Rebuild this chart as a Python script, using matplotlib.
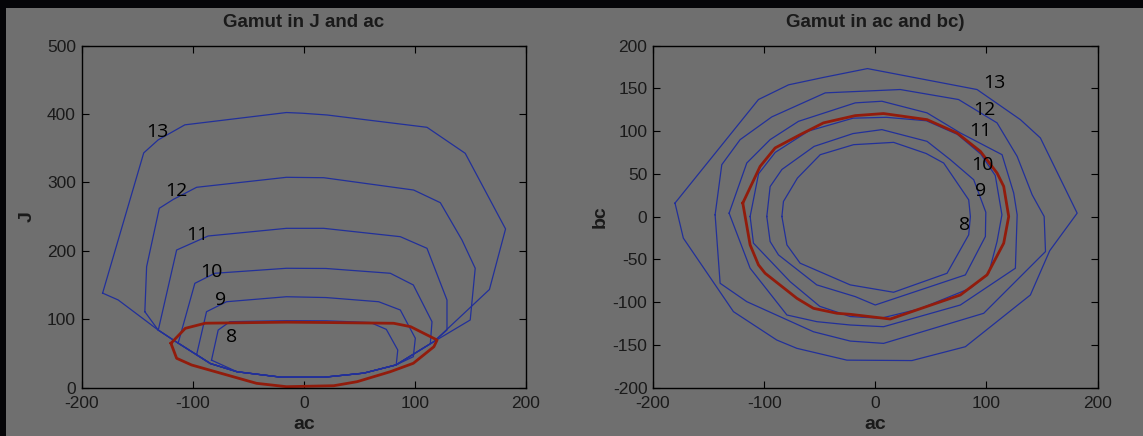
import matplotlib
matplotlib.use("Agg")
import matplotlib.pyplot as plt
from matplotlib.patches import Rectangle

# ---------------- data: left panel (ac vs J) ----------------
L8_ac = [-83, -77, -66.5, -15.6, 20, 60, 74.3, 84.6, 83.2, 54, 18, -20, -60, -83]
L8_J = [40, 84, 96.2, 97.7, 97.5, 95, 85, 54.8, 32.9, 21, 15, 15, 23, 40]
L9_ac = [-96.4, -87.5, -69.5, -15.6, 20, 67.4, 86.9, 100.4, 98.6, 83, 54, 18, -20, -60, -84, -96.4]
L9_J = [48, 110.8, 125.4, 132.7, 131.5, 125.4, 113.3, 72, 45, 33, 21, 15, 15, 23, 35, 48]
L10_ac = [-113, -98, -80, -15.6, 20, 77.9, 98.6, 115.4, 113.9, 83, 54, 18, -20, -60, -84, -113]
L10_J = [65, 152.3, 167, 174.3, 174, 167, 149.9, 96.2, 64, 33, 21, 15, 15, 23, 35, 65]
L11_ac = [-130.9, -114.4, -86, -15.6, 18, 86.9, 110.9, 128.9, 128.9, 117, 83, 54, 18, -20, -60, -84, -117, -130.9]
L11_J = [84, 201, 221.5, 232.7, 232.7, 220.5, 203.5, 127.9, 84, 67, 33, 21, 15, 15, 23, 35, 69, 84]
L12_ac = [-143, -141.4, -130, -117.4, -96.4, -15.6, 18, 98.9, 122.9, 142.4, 154.3, 149.8, 117, 83, 54, 18, -20, -60, -84, -117, -131, -143]
L12_J = [110.8, 176.6, 262, 275, 292.7, 307.3, 306.7, 288.7, 270.2, 215.6, 174.3, 98.7, 67, 33, 21, 15, 15, 23, 35, 69, 84, 110.8]
L13_ac = [-181, -144, -131, -107, -15.6, -1.4, 21, 110.9, 145.3, 181.6, 167.1, 117, 83, 54, 18, -20, -60, -84, -117, -131, -167, -181]
L13_J = [138, 343, 362, 384, 402, 401, 398.4, 380.4, 342.4, 231.8, 143.3, 67, 33, 21, 15, 15, 23, 35, 69, 84, 128, 138]
Lred_ac = [-119.5, -106.6, -88.6, -15.6, 20, 80.9, 96.2, 120, 117.1, 98.6, 77.9, 48, 27, -15.6, -42.5, -100.9, -114.4, -119.5]
Lred_J = [64.6, 86.5, 94, 95.5, 95, 93.9, 88.9, 69.4, 59.6, 35.4, 23.1, 8.5, 2.6, 1.2, 6.1, 32.9, 42.7, 64.6]

# ---------------- data: right panel (ac vs bc) ----------------
R8_ac = [-84, -82.6, -70, -49.5, -19.5, 16.5, 45.8, 61.6, 84.1, 85.6, 84.1, 64.6, 16.5, -22.5, -67.6, -79.5, -84]
R8_bc = [0, 17.6, 45, 72.3, 84, 86.7, 73.7, 62.5, 19.5, 0, -21.4, -66.4, -88.6, -80, -54.6, -33.2, 0]
R9_ac = [-97.6, -94.6, -84, -55, -20, 6, 46.6, 67.6, 88.6, 99.5, 99.1, 81.1, 0, -18, -52.6, -87.1, -94.6, -97.6]
R9_bc = [0, 35, 55, 82, 97, 101.6, 87.9, 66.4, 43, 5, -23.4, -68.3, -103.5, -93.7, -80, -44.9, -29.3, 0]
R10_ac = [-112.6, -105, -90, -60, -20, 10, 46, 74, 95, 108, 114, 109.6, 102.1, 85.6, 40, 5, -22.5, -50, -76.6, -109.6, -112.6]
R10_bc = [0, 50, 75, 100, 115, 116, 112, 96, 73, 48, 2, -29.3, -66.4, -83.9, -108, -119, -117, -105, -76.2, -31.2, 0]
R11_ac = [-131.5, -115.6, -94.6, -69.1, -18, 6, 46.6, 76.6, 114.1, 124.6, 127.7, 126.1, 76.6, 7.5, -22.5, -52.6, -79.5, -112.6, -131.5]
R11_bc = [3.9, 62.6, 89.9, 111.3, 132.9, 134.8, 121.2, 97.7, 72.3, 27.4, 2, -60.5, -103.5, -128.9, -126.9, -123, -115.2, -60.5, 3.9]
R12_ac = [-144.1, -138.1, -121.6, -93.1, -45, 22.5, 75, 109.6, 127.7, 141.2, 152, 153.2, 97.6, 7.5, -22.5, -55.6, -115.6, -139.6, -144.1]
R12_bc = [2, 60.6, 89.9, 116.5, 144.6, 148.5, 136.8, 109.5, 70.3, 25.4, 0, -41, -113.2, -148.4, -145.7, -134.8, -99.6, -78.1, 2]
R13_ac = [-180.2, -105.1, -78, -46.5, -7, 91.6, 130.6, 148.6, 181.7, 157, 139.6, 81.1, 33, -25.5, -70.5, -88.6, -127.6, -172.7, -180.2]
R13_bc = [15.7, 136.8, 154, 162.7, 173, 148.5, 113.3, 91.9, 3.9, -40, -91.8, -152.3, -168.5, -168, -154.2, -144.5, -111.3, -25.3, 15.7]
Rred_ac = [-119.2, -103.6, -90.1, -67.6, -46.6, -18, 7.5, 46.6, 73.6, 94.6, 109.6, 115.6, 120.1, 115.6, 100.6, 76.6, 13.5, -22.5, -34.5, -55.6, -70.5, -99.1, -105.1, -112.6, -119.2]
Rred_bc = [15.7, 58.6, 80.2, 95.7, 109.5, 118, 120.4, 113.3, 97.7, 76.2, 50.9, 35.2, 0, -31.2, -68.3, -91.8, -119.9, -114.4, -113.2, -107.4, -95.7, -66.4, -56.6, -33.2, 15.7]

# contour labels
levels = ["8", "9", "10", "11", "12", "13"]
left_label_ac = [-65, -75, -83, -96, -115, -131.5]
left_label_J = [74, 128, 169, 223, 288, 373]
right_label_ac = [80.5, 94.6, 96, 94.6, 98.5, 107]
right_label_bc = [-9.7, 29.3, 60.6, 99.6, 125, 156]

left_x = [L8_ac, L9_ac, L10_ac, L11_ac, L12_ac, L13_ac]
left_y = [L8_J, L9_J, L10_J, L11_J, L12_J, L13_J]
right_x = [R8_ac, R9_ac, R10_ac, R11_ac, R12_ac, R13_ac]
right_y = [R8_bc, R9_bc, R10_bc, R11_bc, R12_bc, R13_bc]

BG = "#6f6f6f"
BLUE = "#22309a"
RED = "#921c0c"
TXT = "#1a1a1a"

plt.rcParams["font.family"] = ["Liberation Sans", "DejaVu Sans"]
plt.rcParams["axes.unicode_minus"] = False

fig = plt.figure(figsize=(11.43, 4.36), dpi=100, facecolor=BG)
W, H = 1143.0, 436.0
ax1 = fig.add_axes([81.5 / W, 1 - 387.5 / H, 444.5 / W, 342 / H])
ax2 = fig.add_axes([653 / W, 1 - 387.5 / H, 444.5 / W, 342 / H])

# dark frame strips of the screenshot
fig.patches.append(Rectangle((0, 1 - 8 / H), 1, 8 / H, transform=fig.transFigure,
                             facecolor="#050508", edgecolor="none", zorder=0))
fig.patches.append(Rectangle((0, 0), 6 / W, 1, transform=fig.transFigure,
                             facecolor="#050508", edgecolor="none", zorder=0))

for ax in (ax1, ax2):
    ax.set_facecolor(BG)
    for s in ax.spines.values():
        s.set_color("#000000")
        s.set_linewidth(1.0)
    ax.tick_params(direction="in", top=True, right=True, length=5, width=0.8,
                   colors="#000000", labelcolor=TXT, labelsize=12.5)
    ax.tick_params(axis="x", pad=6)
    ax.tick_params(axis="y", pad=4)

LBL_FONT = ["Open Sans", "DejaVu Sans"]

# left
for xs, ys in zip(left_x, left_y):
    ax1.plot(xs, ys, color=BLUE, lw=0.9)
ax1.plot(Lred_ac, Lred_J, color=RED, lw=2.0)
for t, x, y in zip(levels, left_label_ac, left_label_J):
    ax1.text(x, y, t, fontsize=14, color="#000000", ha="center", va="center",
             family=LBL_FONT)
ax1.set_xlim(-200, 200)
ax1.set_ylim(0, 500)
ax1.set_xticks([-200, -100, 0, 100, 200])
ax1.set_yticks([0, 100, 200, 300, 400, 500])
ax1.set_title("Gamut in J and ac", fontsize=13.5, fontweight="bold", color=TXT, pad=13)
ax1.set_xlabel("ac", fontsize=14, fontweight="bold", color=TXT, labelpad=4)
ax1.set_ylabel("J", fontsize=14, fontweight="bold", color=TXT, labelpad=8)

# right
for xs, ys in zip(right_x, right_y):
    ax2.plot(xs, ys, color=BLUE, lw=0.9)
ax2.plot(Rred_ac, Rred_bc, color=RED, lw=2.0)
for t, x, y in zip(levels, right_label_ac, right_label_bc):
    ax2.text(x, y, t, fontsize=14, color="#000000", ha="center", va="center",
             family=LBL_FONT)
ax2.set_xlim(-200, 200)
ax2.set_ylim(-200, 200)
ax2.set_xticks([-200, -100, 0, 100, 200])
ax2.set_yticks([-200, -150, -100, -50, 0, 50, 100, 150, 200])
ax2.set_title("Gamut in ac and bc)", fontsize=13.5, fontweight="bold", color=TXT, pad=13)
ax2.set_xlabel("ac", fontsize=14, fontweight="bold", color=TXT, labelpad=4)
ax2.set_ylabel("bc", fontsize=14, fontweight="bold", color=TXT, labelpad=3)

fig.savefig("out.png", dpi=100, facecolor=BG)
